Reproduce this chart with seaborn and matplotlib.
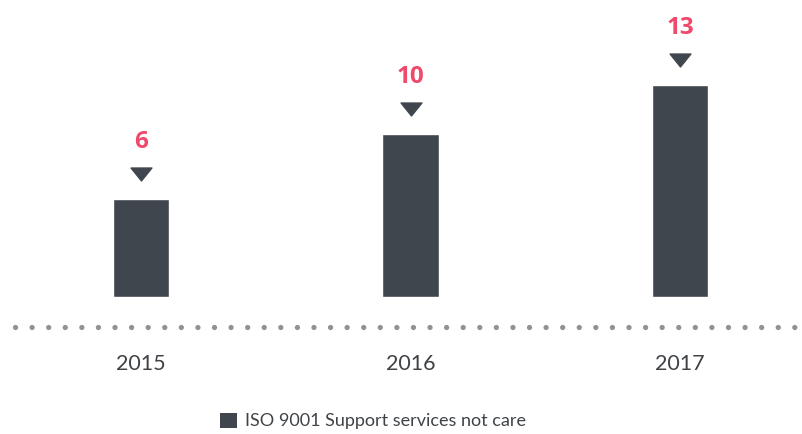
import matplotlib
matplotlib.use("Agg")
import matplotlib.pyplot as plt
import seaborn as sns
import pandas as pd
import numpy as np
from matplotlib.lines import Line2D
from matplotlib.patches import Patch
from matplotlib.path import Path
import matplotlib.transforms as mtransforms

years = ["2015", "2016", "2017"]
values = [6, 10, 13]
series_name = "ISO 9001 Support services not care"

BAR = "#40464e"
PINK = "#ee4a6b"
TXT = "#3f4347"
DOT = "#8f9398"

sns.set_theme(style="white")
plt.rcParams["font.family"] = ["Lato", "DejaVu Sans"]

W, H = 802, 434
fig = plt.figure(figsize=(W / 100, H / 100), dpi=100)
bottom_px = 297
ax = fig.add_axes([0, (H - bottom_px) / H, 1, bottom_px / H])

df = pd.DataFrame({"year": years, "value": values})
sns.barplot(data=df, x="year", y="value", color=BAR, width=0.21, saturation=1,
            ax=ax, errorbar=None)

ppu = 269.5
ax.set_xlim(-141 / ppu, (W - 141) / ppu)
ax.set_ylim(0, 18.2)
for s in ax.spines.values():
    s.set_visible(False)
ax.set_yticks([])
ax.set_xlabel("")
ax.set_ylabel("")
ax.tick_params(axis="x", length=0, pad=41, labelsize=15.5, labelcolor=TXT)

tri = Path([(-1, 0.62), (1, 0.62), (0, -0.62), (-1, 0.62)],
           [Path.MOVETO, Path.LINETO, Path.LINETO, Path.CLOSEPOLY])
for i, v in enumerate(values):
    ax.annotate(str(v), xy=(i, v), xytext=(0, 41), textcoords="offset points",
                ha="center", va="center", color=PINK, fontsize=17.5,
                fontweight="bold", family=["Open Sans", "DejaVu Sans"],
                annotation_clip=False)
    trans = mtransforms.offset_copy(ax.transData, fig=fig, x=0, y=18, units="points")
    ax.plot([i], [v], marker=tri, markersize=15, color=BAR, transform=trans,
            linestyle="none", clip_on=False)

# dotted baseline
lw = 3.8
fig.add_artist(Line2D([15 / W, 800 / W], [(H - 327) / H] * 2, transform=fig.transFigure,
                      color=DOT, linewidth=lw, dash_capstyle="round",
                      dashes=(0.01, 11.9 / lw)))

fig.legend(handles=[Patch(facecolor=BAR, edgecolor="none", label=series_name)],
           loc="center", bbox_to_anchor=(373 / W, (H - 421) / H), frameon=False,
           fontsize=13, handlelength=0.95, handleheight=0.95, handletextpad=0.45,
           labelcolor=TXT)

fig.savefig("out.png", dpi=100)
